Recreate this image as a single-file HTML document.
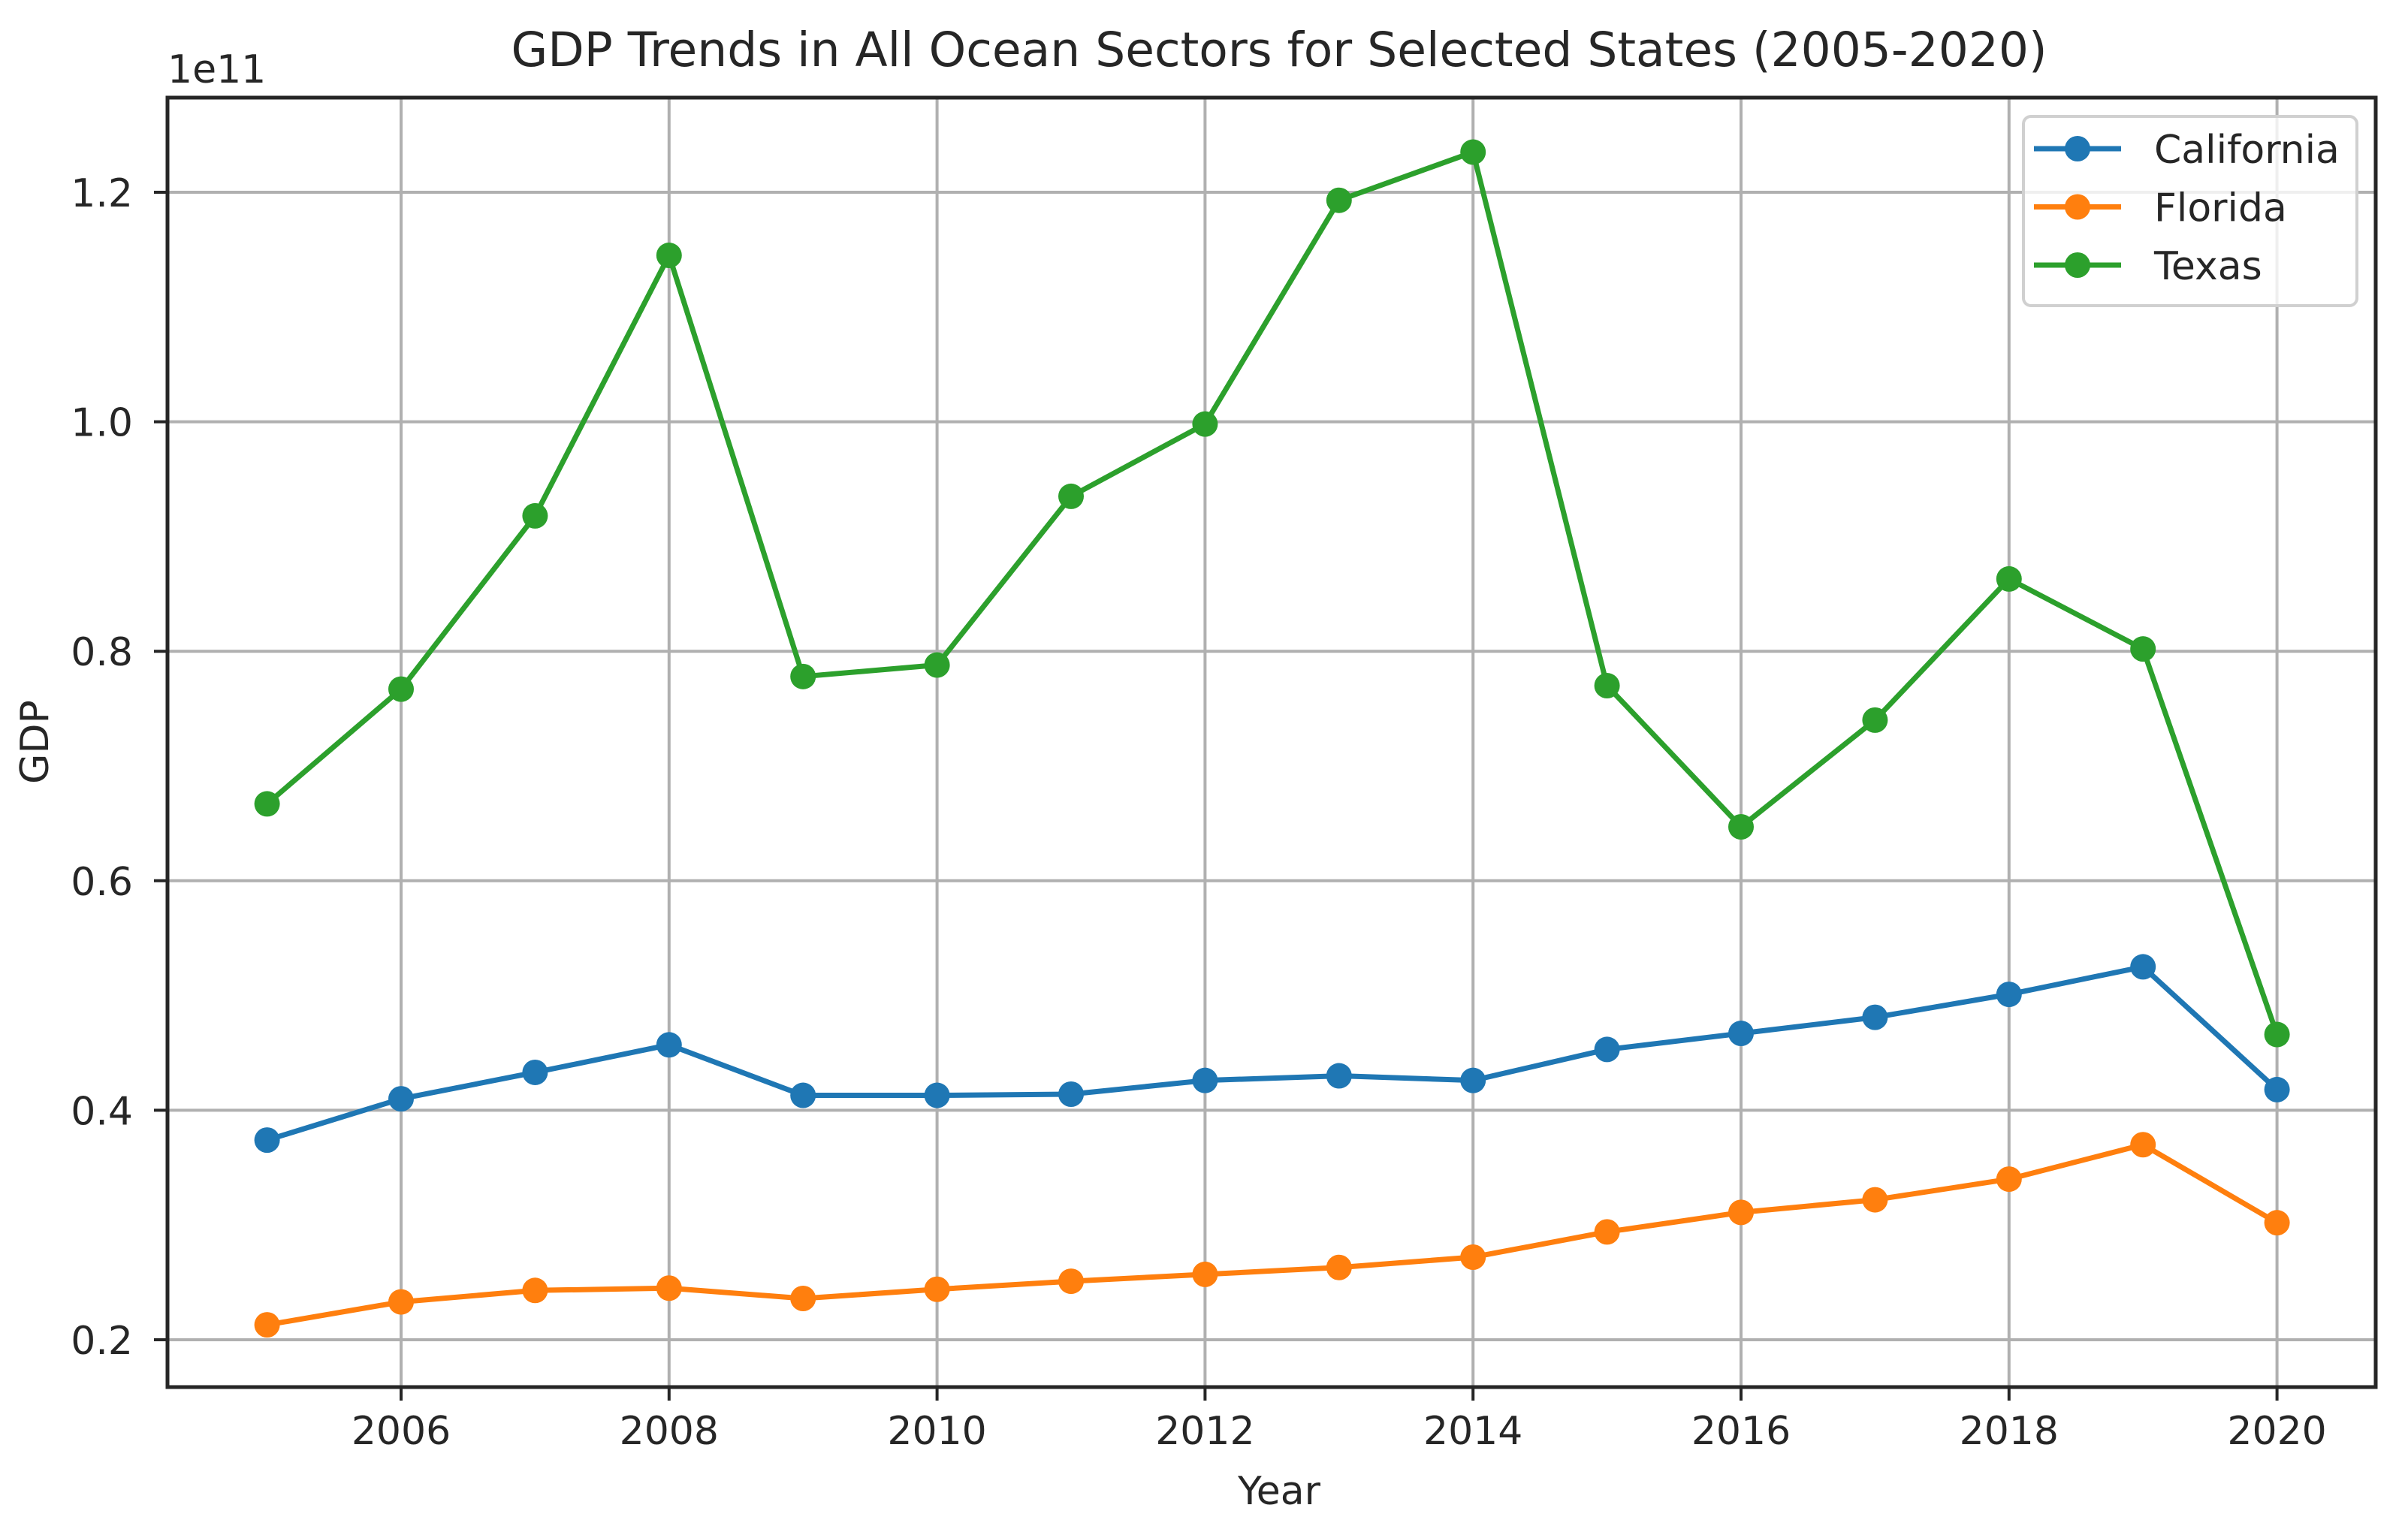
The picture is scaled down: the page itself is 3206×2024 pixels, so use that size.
<!DOCTYPE html>
<html><head><meta charset="utf-8"><style>
html,body{margin:0;padding:0;background:#fff;}
svg{display:block;font-family:"DejaVu Sans","Liberation Sans",sans-serif;}
</style></head><body>
<svg id="chart" width="3206" height="2024" viewBox="0 0 3206 2024" xmlns="http://www.w3.org/2000/svg">
<rect width="3206" height="2024" fill="#fff"/>
<g id="grid"></g>
<g id="series"></g>
<rect x="223" y="130" width="2940" height="1717" fill="none" stroke="#262626" stroke-width="5"/>
<g id="ticks"></g>
<text x="1703" y="88" font-size="63" text-anchor="middle" fill="#262626">GDP Trends in All Ocean Sectors for Selected States (2005-2020)</text>
<text x="223" y="110" font-size="52" fill="#262626">1e11</text>
<text x="1703" y="2003" font-size="52" text-anchor="middle" fill="#262626">Year</text>
<text transform="translate(64,988) rotate(-90)" font-size="52" text-anchor="middle" fill="#262626">GDP</text>
<g>
<rect x="2694" y="155" width="444" height="252" rx="10" fill="#fff" fill-opacity="0.8" stroke="#d0d0d0" stroke-width="4"/>
<g id="legend"></g>
</g>
</svg>
<script>
const years = [2005,2006,2007,2008,2009,2010,2011,2012,2013,2014,2015,2016,2017,2018,2019,2020];
const california = [0.374,0.410,0.433,0.457,0.413,0.413,0.414,0.426,0.430,0.426,0.453,0.467,0.481,0.501,0.525,0.418];
const florida = [0.213,0.233,0.243,0.245,0.236,0.244,0.251,0.257,0.263,0.272,0.294,0.311,0.322,0.340,0.370,0.302];
const texas = [0.667,0.767,0.918,1.145,0.778,0.788,0.935,0.998,1.193,1.235,0.770,0.647,0.740,0.863,0.802,0.466];
const seriesNames = ["California","Florida","Texas"];
const seriesColors = ["#1f77b4","#ff7f0e","#2ca02c"];
const xTicks = [2006,2008,2010,2012,2014,2016,2018,2020];
const yTicks = [0.2,0.4,0.6,0.8,1.0,1.2];
const yTickLabels = ["0.2","0.4","0.6","0.8","1.0","1.2"];

const NS="http://www.w3.org/2000/svg";
function xs(v){return 355.6+(v-2005)*178.4;}
function ys(v){return 1784-(v-0.2)*1528;}
function mk(tag,attrs,parent){const e=document.createElementNS(NS,tag);for(const k in attrs)e.setAttribute(k,attrs[k]);parent.appendChild(e);return e;}
const grid=document.getElementById('grid'),ticks=document.getElementById('ticks'),ser=document.getElementById('series'),leg=document.getElementById('legend');
xTicks.forEach(t=>{
  const g=mk('line',{x1:xs(t),x2:xs(t),y1:130,y2:1847,stroke:'#b0b0b0','stroke-width':4},grid);
  
  
  const tk=mk('line',{x1:xs(t),x2:xs(t),y1:1847,y2:1865,stroke:'#262626','stroke-width':4},ticks);
  
  
  const tx=mk('text',{x:xs(t),y:1923,'font-size':52,'text-anchor':'middle',fill:'#262626'},ticks);
  tx.textContent=t;
  
  
});
yTicks.forEach((t,i)=>{
  const g=mk('line',{x1:223,x2:3163,y1:ys(t),y2:ys(t),stroke:'#b0b0b0','stroke-width':4},grid);
  
  
  const tk=mk('line',{x1:205,x2:223,y1:ys(t),y2:ys(t),stroke:'#262626','stroke-width':4},ticks);
  
  
  const tx=mk('text',{x:177,y:ys(t)+19,'font-size':52,'text-anchor':'end',fill:'#262626'},ticks);
  tx.textContent=yTickLabels[i];
  
  
});
[california,florida,texas].forEach((data,si)=>{
  const col=seriesColors[si];
  const g=mk('g',{},ser);
  
  
  const pts=data.map((v,i)=>xs(years[i])+','+ys(v)).join(' ');
  const pl=mk('polyline',{points:pts,fill:'none',stroke:col,'stroke-width':7,'stroke-linejoin':'round'},g);
  
  
  data.forEach((v,i)=>{
    const c=mk('circle',{cx:xs(years[i]),cy:ys(v),r:17,fill:col},g);
    
    
  });
  const ly=198+si*77.5;
  const e=mk('g',{},leg);
  
  
  mk('line',{x1:2708,x2:2824,y1:ly,y2:ly,stroke:col,'stroke-width':7},e);
  mk('circle',{cx:2766,cy:ly,r:17,fill:col},e);
  const t=mk('text',{x:2868,y:ly+19,'font-size':52,fill:'#262626'},e);
  t.textContent=seriesNames[si];
});
</script>
</body></html>
